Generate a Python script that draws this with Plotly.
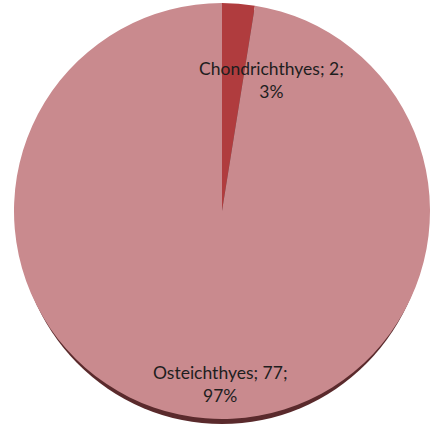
import plotly.graph_objects as go

labels = ["Chondrichthyes", "Osteichthyes"]
values = [2, 77]
colors = ["#B03C3E", "#C98A8E"]

W, H = 434, 428
cx, cy, r = 222, 211, 208  # pixel center (from top) and radius

def px_x(x):
    return x / W

def px_y(y):
    return 1 - y / H

fig = go.Figure()
fig.add_trace(go.Pie(
    labels=labels, values=values, sort=False, direction="clockwise", rotation=0,
    marker=dict(colors=colors, line=dict(width=0)),
    textinfo="none", hoverinfo="label+value+percent", showlegend=False,
    domain=dict(x=[px_x(cx - r), px_x(cx + r)], y=[px_y(cy + r), px_y(cy - r)]),
))

# dark rim shadow under the pie
fig.add_shape(type="circle", xref="paper", yref="paper", layer="below",
              x0=px_x(cx - r + 3), x1=px_x(cx + r - 3),
              y0=px_y(cy + r + 5), y1=px_y(cy - r + 5),
              fillcolor="#5A2A2C", line=dict(width=0))

total = sum(values)
label_pos = [(271, 80), (220, 384)]
for lab, val, (x, y) in zip(labels, values, label_pos):
    pct = round(100 * val / total)
    fig.add_annotation(x=px_x(x), y=px_y(y), xref="paper", yref="paper",
                       xanchor="center", yanchor="middle",
                       text=f"{lab}; {val};<br>{pct}%", showarrow=False,
                       align="center", font=dict(family="Lato", size=17.5, color="#1E1E1E"))

fig.update_layout(width=W, height=H, margin=dict(l=0, r=0, t=0, b=0),
                  paper_bgcolor="white", plot_bgcolor="white")
fig.write_html("out.html")
